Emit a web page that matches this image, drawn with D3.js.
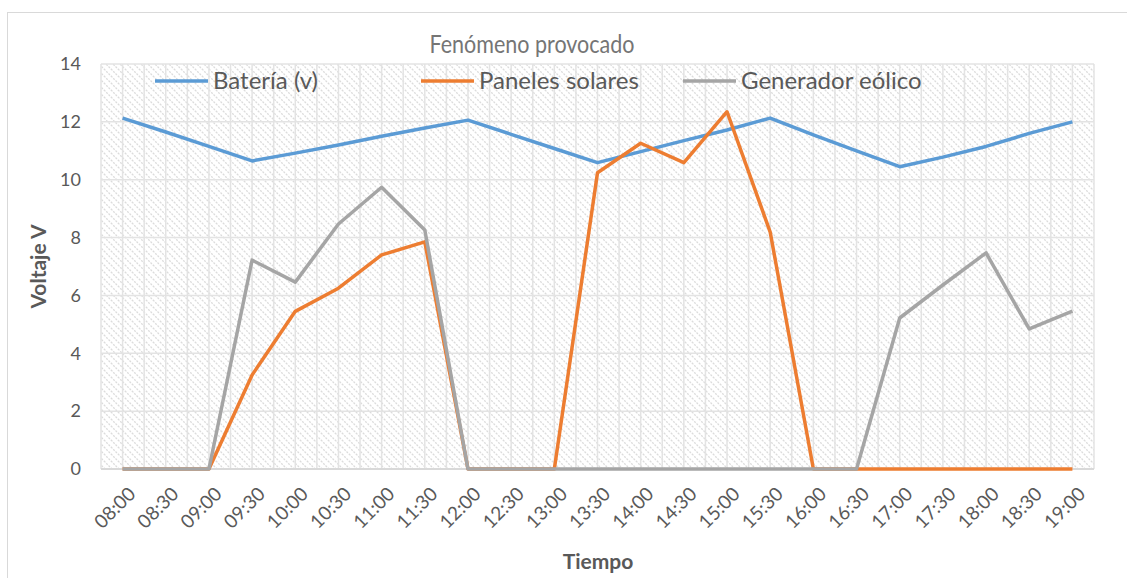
<!DOCTYPE html>
<html>
<head>
<meta charset="utf-8">
<script src="https://cdn.jsdelivr.net/npm/d3@7"></script>
<style>
  body { margin: 0; background: #fff; }
  text { font-family: Lato, "Open Sans", sans-serif; fill: #595959; }
</style>
</head>
<body>
<script>
var times = ["08:00","08:30","09:00","09:30","10:00","10:30","11:00","11:30","12:00","12:30","13:00","13:30",
             "14:00","14:30","15:00","15:30","16:00","16:30","17:00","17:30","18:00","18:30","19:00"]
var bateria = [12.13,11.65,11.15,10.65,10.92,11.2,11.5,11.79,12.06,11.57,11.08,10.59,
               10.97,11.35,11.72,12.13,11.55,11.0,10.45,10.78,11.15,11.6,12.0]
var paneles = [0,0,0,3.25,5.45,6.25,7.4,7.85,0,0,0,10.24,
               11.26,10.59,12.35,8.19,0,0,0,0,0,0,0]
var eolico = [0,0,0,7.22,6.46,8.47,9.74,8.26,0,0,0,0,
              0,0,0,0,0,0,5.22,6.36,7.47,4.84,5.46]
var seriesNames = ["Batería (v)", "Paneles solares", "Generador eólico"]
var seriesColors = ["#5B9BD5", "#ED7D31", "#A5A5A5"]
var yTicks = [0,2,4,6,8,10,12,14]

var width = 1127
var height = 578
var plotLeft = 101, plotRight = 1094, plotTop = 64, plotBottom = 469

var svg = d3.select('body').append('svg')
    .attr('width', width)
    .attr('height', height)

// hatch pattern
var defs = svg.append('defs')
defs.append('pattern')
    .attr('id', 'hatch')
    .attr('patternUnits', 'userSpaceOnUse')
    .attr('width', 7).attr('height', 7)
    .append('path')
    .attr('d', 'M-1,-1 L8,8 M-1,6 L1,8 M6,-1 L8,1')
    .attr('stroke', '#dcdcdc')
    .attr('stroke-width', 1.3)
    .attr('stroke-dasharray', '2,1.2')

// chart border
svg.append('rect')
    .attr('x', 7.5).attr('y', 12.5)
    .attr('width', 1130).attr('height', 600)
    .attr('fill', 'none')
    .attr('stroke', '#d9d9d9')

var x = d3.scaleBand().domain(times).range([plotLeft, plotRight])
var y = d3.scaleLinear().domain([0, 14]).range([plotBottom, plotTop])
var cx = function (t) { return x(t) + x.bandwidth() / 2 }

svg.append('rect')
    .attr('x', plotLeft).attr('y', plotTop)
    .attr('width', plotRight - plotLeft).attr('height', plotBottom - plotTop)
    .attr('fill', 'url(#hatch)')

// vertical gridlines at every half band
var grid = svg.append('g')
var vx = []
times.forEach(function (t) { vx.push(x(t)); vx.push(cx(t)) })
vx.push(plotRight)
grid.selectAll('.vg').data(vx).enter().append('line')
    .attr('x1', function (d) { return d }).attr('x2', function (d) { return d })
    .attr('y1', plotTop).attr('y2', plotBottom)
    .attr('stroke', '#e3e3e3').attr('stroke-width', 1.5)
grid.selectAll('.hg').data(yTicks).enter().append('line')
    .attr('x1', plotLeft).attr('x2', plotRight)
    .attr('y1', function (d) { return y(d) }).attr('y2', function (d) { return y(d) })
    .attr('stroke', function (d) { return d === 0 ? '#d9d9d9' : '#e3e3e3' })
    .attr('stroke-width', function (d) { return d === 0 ? 2 : 1.5 })

// y axis labels
var yAxis = svg.append('g')
    .attr('transform', 'translate(' + (plotLeft - 20) + ',0)')
    .call(d3.axisLeft(y).tickValues(yTicks).tickSize(0).tickPadding(0))
yAxis.select('.domain').remove()
yAxis.selectAll('text').style('font-size', '18px').attr('fill', '#595959')

// x axis labels
var xAxis = svg.append('g')
    .attr('transform', 'translate(0,' + plotBottom + ')')
    .call(d3.axisBottom(x).tickSize(0))
xAxis.select('.domain').remove()
xAxis.selectAll('text')
    .style('font-size', '19px')
    .attr('fill', '#595959')
    .attr('text-anchor', 'end')
    .attr('dy', 0)
    .attr('transform', 'translate(12,24) rotate(-45)')

// lines
var line = d3.line()
    .x(function (d, i) { return cx(times[i]) })
    .y(function (d) { return y(d) })
var allSeries = [bateria, paneles, eolico]
svg.selectAll('.serie').data(allSeries).enter().append('path')
    .attr('d', line)
    .attr('fill', 'none')
    .attr('stroke', function (d, i) { return seriesColors[i] })
    .attr('stroke-width', 3.5)
    .attr('stroke-linejoin', 'round')

// legend
var legendX = [155, 421, 683]
var legend = svg.selectAll('.leg').data(seriesNames).enter().append('g')
    .attr('transform', function (d, i) { return 'translate(' + legendX[i] + ',81)' })
legend.append('line')
    .attr('x1', 0).attr('x2', 53)
    .attr('stroke', function (d, i) { return seriesColors[i] })
    .attr('stroke-width', 3.5)
legend.append('text')
    .attr('x', 58).attr('dy', '0.35em')
    .style('font-size', '24px')
    .text(function (d) { return d })

// titles
svg.append('text')
    .attr('x', 532).attr('y', 53)
    .attr('text-anchor', 'middle')
    .style('font-size', '25px')
    .attr('textLength', 205)
    .attr('lengthAdjust', 'spacingAndGlyphs')
    .style('fill', '#757575')
    .text('Fenómeno provocado')

svg.append('text')
    .attr('transform', 'translate(46,' + ((plotTop + plotBottom) / 2) + ') rotate(-90)')
    .attr('text-anchor', 'middle')
    .style('font-size', '21px')
    .style('font-weight', 'bold')
    .text('Voltaje V')

svg.append('text')
    .attr('x', 598).attr('y', 569)
    .attr('text-anchor', 'middle')
    .style('font-size', '21px')
    .style('font-weight', 'bold')
    .text('Tiempo')
</script>
</body>
</html>
